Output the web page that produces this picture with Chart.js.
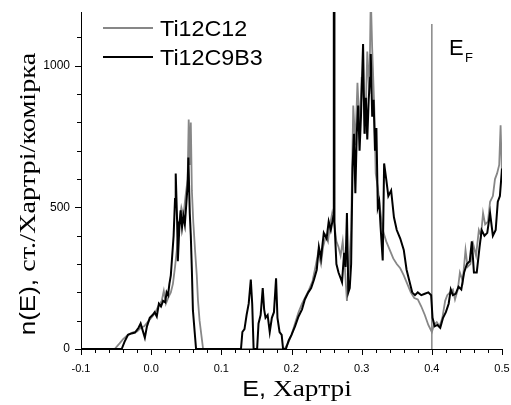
<!DOCTYPE html>
<html lang="uk">
<head>
    <meta charset="UTF-8">
    <title>n(E) Ti12C12 / Ti12C9B3</title>
    <script src="https://cdn.jsdelivr.net/npm/chart.js"></script>
    <style>
        body { margin: 0; background: #fff; }
        #dos { display: block; }
    </style>
</head>
<body>
    <canvas id="dos" width="511" height="405"></canvas>
    <script>
        // дані, зчитані з рисунку
        const seriesNames = ['Ti12C12', 'Ti12C9B3'];

        const grayE = [-0.1, -0.052, -0.045, -0.04, -0.033, -0.027, -0.02, -0.015, -0.01, -0.005, 0.0, 0.005, 0.01, 0.015, 0.018, 0.021, 0.025, 0.028, 0.031, 0.034, 0.037, 0.040, 0.043, 0.046, 0.049, 0.052, 0.0535, 0.055, 0.0565, 0.058, 0.060, 0.0625, 0.065, 0.0667, 0.069, 0.0724, 0.074,
            0.19, 0.195, 0.2, 0.205, 0.21, 0.215, 0.22, 0.225, 0.23, 0.235, 0.238, 0.242, 0.245, 0.249, 0.252, 0.255, 0.258, 0.261, 0.264, 0.267, 0.270, 0.273, 0.276, 0.279, 0.282, 0.285, 0.288, 0.291, 0.294, 0.297, 0.300, 0.303, 0.305, 0.308, 0.311, 0.313, 0.315, 0.318, 0.320, 0.323, 0.326, 0.330, 0.335, 0.340, 0.345, 0.350, 0.355, 0.360, 0.365, 0.370, 0.375, 0.380, 0.385, 0.390, 0.395, 0.400,
            0.403, 0.407, 0.411, 0.415, 0.419, 0.422, 0.426, 0.430, 0.433, 0.437, 0.440, 0.444, 0.448, 0.451, 0.455, 0.459, 0.463, 0.467, 0.470, 0.473, 0.476, 0.480, 0.483, 0.487, 0.490, 0.493, 0.496, 0.498, 0.5];
        const grayN = [0, 0, 20, 35, 50, 58, 62, 75, 80, 95, 110, 125, 150, 170, 205, 160, 185, 200, 230, 290, 360, 450, 500, 470, 540, 600, 810, 650, 800, 560, 450, 350, 260, 172, 100, 32, 0,
            0, 20, 50, 90, 130, 160, 185, 210, 240, 300, 340, 300, 360, 400, 380, 440, 480, 440, 380, 360, 330, 380, 290, 170, 290, 420, 860, 720, 940, 780, 960, 880, 760, 1050, 900, 1250, 1060, 850, 620, 570, 500, 420, 380, 350, 320, 300, 285, 260, 230, 200, 180, 175, 150, 120, 85, 60,
            85, 95, 80, 110, 170, 190, 200, 210, 175, 210, 270, 240, 350, 290, 300, 370, 330, 420, 400, 480, 440, 450, 520, 540, 600, 620, 650, 790, 610];

        const blackE = [-0.1, -0.042, -0.038, -0.033, -0.028, -0.023, -0.018, -0.015, -0.012, -0.009, -0.006, -0.002, 0.002, 0.005, 0.008, 0.011, 0.014, 0.017, 0.020, 0.022, 0.024, 0.026, 0.028, 0.030, 0.032, 0.034, 0.035, 0.037, 0.038, 0.040, 0.042, 0.044, 0.046, 0.048, 0.050, 0.052, 0.053, 0.055, 0.0565, 0.058, 0.0595, 0.062, 0.064,
            0.128, 0.130, 0.133, 0.136, 0.139, 0.142, 0.144, 0.146, 0.151, 0.153, 0.156, 0.159, 0.161, 0.163, 0.166, 0.169, 0.172, 0.175, 0.178, 0.180, 0.183, 0.186, 0.188, 0.192,
            0.196, 0.2, 0.205, 0.21, 0.215, 0.219, 0.224, 0.228, 0.232, 0.236, 0.239, 0.242, 0.246, 0.250, 0.253, 0.256, 0.2598, 0.2603, 0.2607, 0.2612, 0.264, 0.267, 0.270, 0.272, 0.275, 0.277, 0.279, 0.281, 0.283, 0.285, 0.287, 0.289, 0.291, 0.293, 0.295, 0.297, 0.299, 0.302, 0.304, 0.306, 0.308, 0.310, 0.312, 0.313, 0.315, 0.317, 0.319, 0.321, 0.323, 0.325, 0.327, 0.330, 0.332, 0.335, 0.338, 0.342, 0.346, 0.350, 0.355, 0.360, 0.364, 0.368, 0.372, 0.376, 0.380, 0.385, 0.390, 0.395, 0.399,
            0.401, 0.404, 0.408, 0.412, 0.416, 0.420, 0.424, 0.427, 0.430, 0.434, 0.438, 0.442, 0.446, 0.450, 0.454, 0.457, 0.460, 0.464, 0.468, 0.471, 0.475, 0.479, 0.483, 0.487, 0.491, 0.494, 0.497, 0.5];
        const blackN = [0, 0, 25, 50, 55, 58, 75, 90, 65, 40, 80, 110, 120, 130, 115, 160, 150, 170, 165, 200, 190, 230, 260, 330, 400, 530, 620, 450, 310, 420, 490, 430, 470, 440, 510, 580, 676, 480, 400, 278, 137, 60, 0,
            0, 60, 70, 120, 160, 245, 160, 0, 0, 90, 120, 215, 140, 110, 120, 60, 110, 130, 250, 110, 60, 50, 0, 0,
            30, 50, 80, 115, 140, 175, 200, 215, 245, 280, 360, 320, 410, 390, 450, 420, 470, 1250, 1250, 450, 300, 270, 250, 236, 340, 290, 480, 200, 215, 300, 640, 760, 550, 760, 860, 700, 820, 1077, 760, 887, 740, 880, 958, 1042, 820, 880, 700, 780, 500, 520, 430, 313, 655, 600, 540, 560, 465, 420, 390, 350, 280, 240, 200, 190, 200, 190, 195, 200, 190,
            110, 80, 85, 75, 110, 130, 160, 210, 190, 195, 220, 210, 270, 300, 310, 380, 270, 270, 360, 420, 400, 410, 480, 400, 420, 520, 540, 637];

        const fermiE = [0.4, 0.4];
        const fermiN = [0, 1148];

        const xTickValues = [-0.1, 0.0, 0.1, 0.2, 0.3, 0.4, 0.5];
        const yTickValues = [0, 500, 1000];

        const grayColor = '#878787';
        const sans = '"Liberation Sans", Arial, sans-serif';
        const serif = '"Liberation Serif", "Times New Roman", serif';

        function toPoints(xs, ys) {
            return xs.map((x, i) => ({ x: x, y: ys[i] }));
        }

        // текст з двох шрифтів, трохи розтягнутий по горизонталі
        function mixedText(ctx, parts, cx, baseY, stretch) {
            let total = 0;
            parts.forEach(p => { ctx.font = p.font; p.w = ctx.measureText(p.text).width; total += p.w; });
            ctx.save();
            ctx.translate(cx, baseY);
            ctx.scale(stretch, 1);
            let x = -total / 2;
            parts.forEach(p => { ctx.font = p.font; ctx.fillText(p.text, x, 0); x += p.w; });
            ctx.restore();
        }

        // підписи осей, легенда, мітки поділок
        const decorPlugin = {
            id: 'decor',
            afterDraw(chart) {
                const ctx = chart.ctx;
                const xs = chart.scales.x;
                const ys = chart.scales.y;
                const area = chart.chartArea;
                ctx.save();
                ctx.strokeStyle = '#000';
                ctx.lineWidth = 1;
                ctx.beginPath();
                for (let k = 0; k <= 30; k++) {
                    const v = -0.1 + k * 0.02;
                    const len = (k % 5 === 0) ? 6 : 4;
                    const px = Math.round(xs.getPixelForValue(v)) + 0.5;
                    ctx.moveTo(px, area.bottom);
                    ctx.lineTo(px, area.bottom + len);
                }
                for (let v = 0; v <= 1100; v += 100) {
                    const len = (v % 500 === 0) ? 6 : 4;
                    const py = Math.round(ys.getPixelForValue(v)) + 0.5;
                    ctx.moveTo(area.left, py);
                    ctx.lineTo(area.left - len, py);
                }
                ctx.stroke();

                ctx.fillStyle = '#000';
                ctx.textBaseline = 'alphabetic';
                ctx.textAlign = 'left';

                // назва осі X
                mixedText(ctx, [
                    { text: 'E, ', font: '22px ' + sans },
                    { text: 'Хартрі', font: '24px ' + serif }
                ], 297, 396, 1.14);

                // назва осі Y
                ctx.save();
                ctx.translate(35, 194);
                ctx.rotate(-Math.PI / 2);
                mixedText(ctx, [
                    { text: 'n(E), ', font: '22px ' + sans },
                    { text: 'ст./Хартрі/комірка', font: '24px ' + serif }
                ], 0, 0, 1.18);
                ctx.restore();

                // легенда
                ctx.lineWidth = 2;
                ctx.strokeStyle = grayColor;
                ctx.beginPath();
                ctx.moveTo(103, 28);
                ctx.lineTo(153, 28);
                ctx.stroke();
                ctx.strokeStyle = '#000';
                ctx.beginPath();
                ctx.moveTo(103, 57);
                ctx.lineTo(153, 57);
                ctx.stroke();
                ctx.save();
                ctx.translate(160, 0);
                ctx.scale(1.06, 1);
                ctx.font = '22px ' + sans;
                ctx.fillText(seriesNames[0], 0, 36);
                ctx.fillText(seriesNames[1], 0, 65);
                ctx.restore();

                // рівень Фермі
                ctx.font = '22px ' + sans;
                ctx.fillText('E', 449, 55);
                ctx.font = '13px ' + sans;
                ctx.fillText('F', 465, 62);
                ctx.restore();
            }
        };

        const ctx = document.getElementById('dos').getContext('2d');

        const chart = new Chart(ctx, {
            type: 'line',
            data: {
                datasets: [
                    {
                        label: seriesNames[1],
                        data: toPoints(blackE, blackN),
                        borderColor: '#000',
                        borderWidth: 2,
                        order: 0
                    },
                    {
                        label: seriesNames[0],
                        data: toPoints(grayE, grayN),
                        borderColor: grayColor,
                        borderWidth: 1.8,
                        order: 1
                    },
                    {
                        label: 'EF',
                        data: toPoints(fermiE, fermiN),
                        borderColor: grayColor,
                        borderWidth: 1.5,
                        order: 2
                    }
                ]
            },
            options: {
                responsive: false,
                animation: false,
                events: [],
                elements: {
                    point: { radius: 0 },
                    line: { tension: 0, fill: false }
                },
                layout: {
                    padding: { left: 0, right: 9, top: 12, bottom: 0 }
                },
                plugins: {
                    legend: { display: false },
                    tooltip: { enabled: false },
                    title: { display: false }
                },
                scales: {
                    x: {
                        type: 'linear',
                        min: -0.1,
                        max: 0.5,
                        grid: { display: false, drawTicks: false },
                        border: { display: true, color: '#000', width: 1 },
                        afterBuildTicks: s => { s.ticks = xTickValues.map(v => ({ value: v })); },
                        afterFit: s => {
                            s.height = 56;
                            s.paddingLeft = 0;
                            s.paddingRight = 0;
                        },
                        ticks: {
                            autoSkip: false,
                            maxRotation: 0,
                            padding: 13,
                            color: '#000',
                            font: { family: sans, size: 11 },
                            callback: v => Number(v).toFixed(1)
                        }
                    },
                    y: {
                        min: 0,
                        max: 1190,
                        grid: { display: false, drawTicks: false },
                        border: { display: true, color: '#000', width: 1 },
                        afterBuildTicks: s => { s.ticks = yTickValues.map(v => ({ value: v })); },
                        afterFit: s => {
                            s.width = 81;
                            s.paddingTop = 0;
                            s.paddingBottom = 0;
                        },
                        ticks: {
                            autoSkip: false,
                            padding: 11,
                            color: '#000',
                            font: { family: sans, size: 12 },
                            callback: v => String(v)
                        }
                    }
                }
            },
            plugins: [decorPlugin]
        });
    </script>
</body>
</html>
